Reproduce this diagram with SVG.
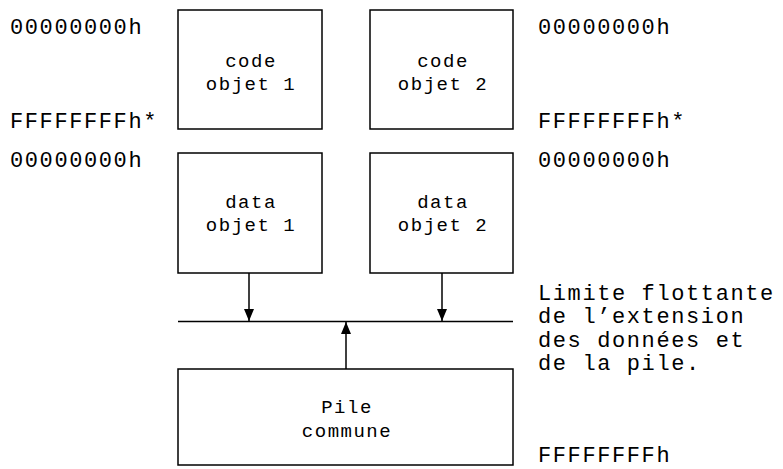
<svg xmlns="http://www.w3.org/2000/svg" width="783" height="469" viewBox="0 0 783 469">
<defs>
<style>
.box{fill:#fff;stroke:#000;stroke-width:1.5}
.lbl{font-family:"Liberation Mono","Courier New",monospace;font-size:19px;letter-spacing:1.5px;fill:#000;text-anchor:middle}
.side{font-family:"Liberation Mono","Courier New",monospace;font-size:22px;letter-spacing:1.6px;fill:#000}
.ln{stroke:#000;stroke-width:1.5;fill:none}
</style>
<marker id="ah" markerWidth="12" markerHeight="10" refX="12" refY="5" orient="auto" markerUnits="userSpaceOnUse" viewBox="0 0 12 10">
<path d="M0,0 L12,5 L0,10 Z" fill="#000"/>
</marker>
</defs>
<rect width="783" height="469" fill="#fff"/>
<g id="code1"><rect class="box" x="178" y="10" width="144" height="119"/><text class="lbl" x="251" y="67">code</text><text class="lbl" x="251" y="90">objet 1</text></g>
<g id="code2"><rect class="box" x="370" y="10" width="143" height="119"/><text class="lbl" x="443" y="67">code</text><text class="lbl" x="443" y="90">objet 2</text></g>
<g id="data1"><rect class="box" x="178" y="153" width="144" height="120"/><text class="lbl" x="251" y="208">data</text><text class="lbl" x="251" y="231">objet 1</text></g>
<g id="data2"><rect class="box" x="370" y="153" width="143" height="120"/><text class="lbl" x="443" y="208">data</text><text class="lbl" x="443" y="231">objet 2</text></g>
<g id="pile"><rect class="box" x="178" y="369" width="335" height="96"/><text class="lbl" x="347" y="413">Pile</text><text class="lbl" x="347" y="437">commune</text></g>
<g id="limit"><line class="ln" x1="178" y1="321.5" x2="513" y2="321.5"/></g>
<g id="connectors">
<line class="ln" x1="249" y1="273" x2="249" y2="321" marker-end="url(#ah)"/>
<line class="ln" x1="442" y1="273" x2="442" y2="321" marker-end="url(#ah)"/>
<line class="ln" x1="346" y1="369" x2="346" y2="322" marker-end="url(#ah)"/>
</g>
<g id="labels">
<text class="side" x="10" y="34">00000000h</text>
<text class="side" x="10" y="128">FFFFFFFFh*</text>
<text class="side" x="10" y="167">00000000h</text>
<text class="side" x="538" y="34">00000000h</text>
<text class="side" x="538" y="128">FFFFFFFFh*</text>
<text class="side" x="538" y="167">00000000h</text>
<text class="side" x="538" y="300">Limite flottante</text>
<text class="side" x="538" y="323">de l’extension</text>
<text class="side" x="538" y="347">des données et</text>
<text class="side" x="538" y="370">de la pile.</text>
<text class="side" x="538" y="462">FFFFFFFFh</text>
</g>
</svg>
